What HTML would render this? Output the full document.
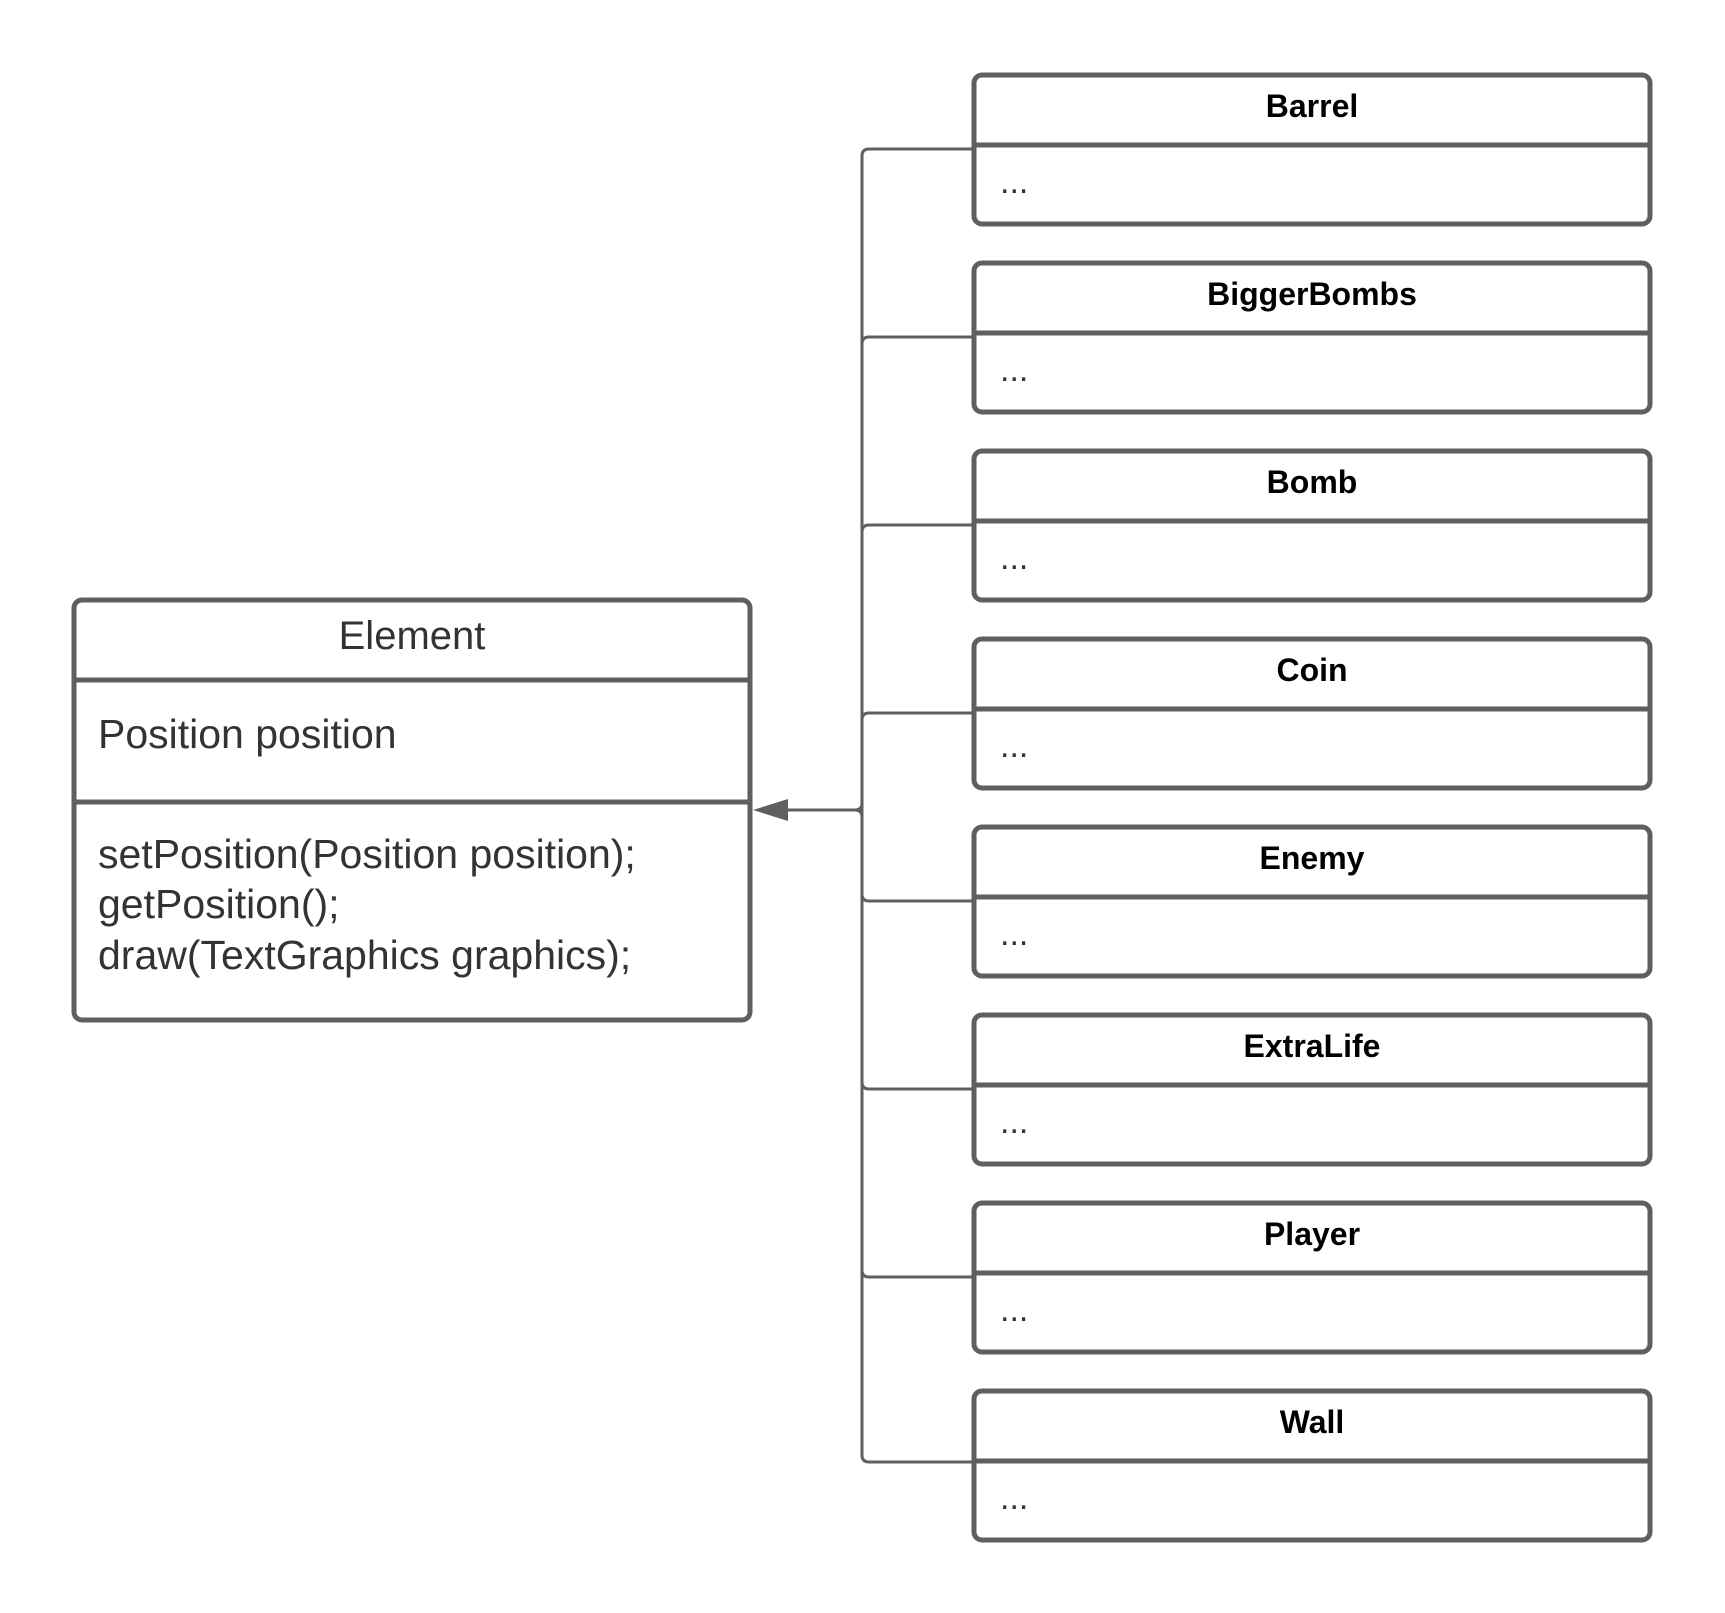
<!DOCTYPE html>
<html><head><meta charset="utf-8"><style>
html,body{margin:0;padding:0;background:#fff;}
svg{display:block;}
</style></head><body>
<svg width="1725" height="1613" viewBox="0 0 1725 1613" xmlns="http://www.w3.org/2000/svg">
<rect width="1725" height="1613" fill="#fff"/>
<g fill="none" stroke="#5f5f5f">
<rect x="74" y="600" width="676" height="420" rx="8" stroke-width="5"/>
<line x1="74" y1="680" x2="750" y2="680" stroke-width="5"/>
<line x1="74" y1="802" x2="750" y2="802" stroke-width="5"/>
<path d="M974 149 H869 Q862 149 862 156 V1455 Q862 1462 869 1462 H974" stroke-width="3"/>
<path d="M974 337 H869 Q862 337 862 344" stroke-width="3"/>
<path d="M974 525 H869 Q862 525 862 532" stroke-width="3"/>
<path d="M974 713 H869 Q862 713 862 720" stroke-width="3"/>
<path d="M974 901 H869 Q862 901 862 894" stroke-width="3"/>
<path d="M974 1089 H869 Q862 1089 862 1082" stroke-width="3"/>
<path d="M974 1277 H869 Q862 1277 862 1270" stroke-width="3"/>
<path d="M862 803 Q862 810 855 810 Q862 810 862 817" stroke-width="3"/>
<line x1="855" y1="810" x2="785" y2="810" stroke-width="3"/>
</g>
<polygon points="753,810 788,799 788,821" fill="#5f5f5f"/>
<g fill="none" stroke="#5f5f5f" stroke-width="5">
<rect x="974" y="75" width="676" height="149" rx="8"/><line x1="974" y1="145" x2="1650" y2="145"/>
<rect x="974" y="263" width="676" height="149" rx="8"/><line x1="974" y1="333" x2="1650" y2="333"/>
<rect x="974" y="451" width="676" height="149" rx="8"/><line x1="974" y1="521" x2="1650" y2="521"/>
<rect x="974" y="639" width="676" height="149" rx="8"/><line x1="974" y1="709" x2="1650" y2="709"/>
<rect x="974" y="827" width="676" height="149" rx="8"/><line x1="974" y1="897" x2="1650" y2="897"/>
<rect x="974" y="1015" width="676" height="149" rx="8"/><line x1="974" y1="1085" x2="1650" y2="1085"/>
<rect x="974" y="1203" width="676" height="149" rx="8"/><line x1="974" y1="1273" x2="1650" y2="1273"/>
<rect x="974" y="1391" width="676" height="149" rx="8"/><line x1="974" y1="1461" x2="1650" y2="1461"/>
</g>
<g font-family="Liberation Sans, Arial, sans-serif" fill="#333">
<text x="412" y="649" font-size="40" text-anchor="middle">Element</text>
<text x="98" y="748" font-size="41">Position position</text>
<text x="98" y="868" font-size="41">setPosition(Position position);</text>
<text x="98" y="918" font-size="41">getPosition();</text>
<text x="98" y="969" font-size="41">draw(TextGraphics graphics);</text>
</g>
<g font-family="Liberation Sans, Arial, sans-serif" font-weight="bold" font-size="32" fill="#000" text-anchor="middle">
<text x="1312" y="117">Barrel</text>
<text x="1312" y="305">BiggerBombs</text>
<text x="1312" y="493">Bomb</text>
<text x="1312" y="681">Coin</text>
<text x="1312" y="869">Enemy</text>
<text x="1312" y="1057">ExtraLife</text>
<text x="1312" y="1245">Player</text>
<text x="1312" y="1433">Wall</text>
</g>
<g font-family="Liberation Sans, Arial, sans-serif" font-size="34" fill="#333">
<text x="1000" y="193">...</text>
<text x="1000" y="381">...</text>
<text x="1000" y="569">...</text>
<text x="1000" y="757">...</text>
<text x="1000" y="945">...</text>
<text x="1000" y="1133">...</text>
<text x="1000" y="1321">...</text>
<text x="1000" y="1509">...</text>
</g>
</svg>
</body></html>
